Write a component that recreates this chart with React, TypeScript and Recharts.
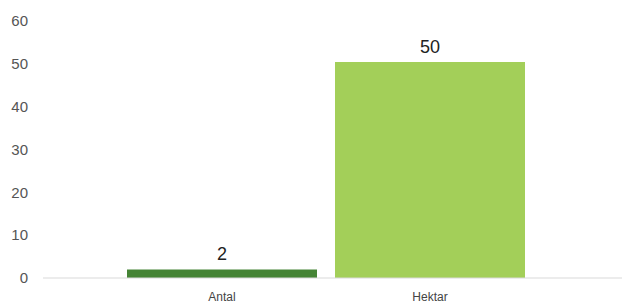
import { Bar, BarChart, Cell, LabelList, XAxis, YAxis } from "recharts";

const categories = ["Antal", "Hektar"];
const values = [2, 50.4];
const yTicks = [0, 10, 20, 30, 40, 50, 60];
const barColors = ["#458435", "#a3cf59"];

const rows = categories.map((name, i) => ({ name, value: values[i] }));

export default function App() {
  return (
    <div style={{ position: "absolute", left: 0, top: 0, background: "#fff" }}>
      <BarChart
        width={622}
        height={304}
        data={rows}
        margin={{ top: 21, right: 0, bottom: 0, left: 0 }}
        barCategoryGap={9}
        style={{ fontFamily: "'Liberation Sans', Arial, sans-serif" }}
      >
        <XAxis
          dataKey="name"
          height={26}
          padding={{ left: 75, right: 88 }}
          axisLine={{ stroke: "#d9d9d9" }}
          tickLine={false}
          tickSize={0}
          tickMargin={14}
          tick={{ fontSize: 12, fill: "#444" }}
        />
        <YAxis
          width={43}
          domain={[0, 60]}
          ticks={yTicks}
          axisLine={false}
          tickLine={false}
          tickSize={0}
          tickMargin={15}
          tick={{ fontSize: 15, fill: "#555" }}
        />
        <Bar dataKey="value" isAnimationActive={false}>
          {rows.map((r, i) => (
            <Cell key={r.name} fill={barColors[i]} />
          ))}
          <LabelList
            dataKey="value"
            position="top"
            offset={9}
            formatter={(v: number) => Math.round(v)}
            style={{ fontSize: 18, fill: "#222" }}
          />
        </Bar>
      </BarChart>
    </div>
  );
}
